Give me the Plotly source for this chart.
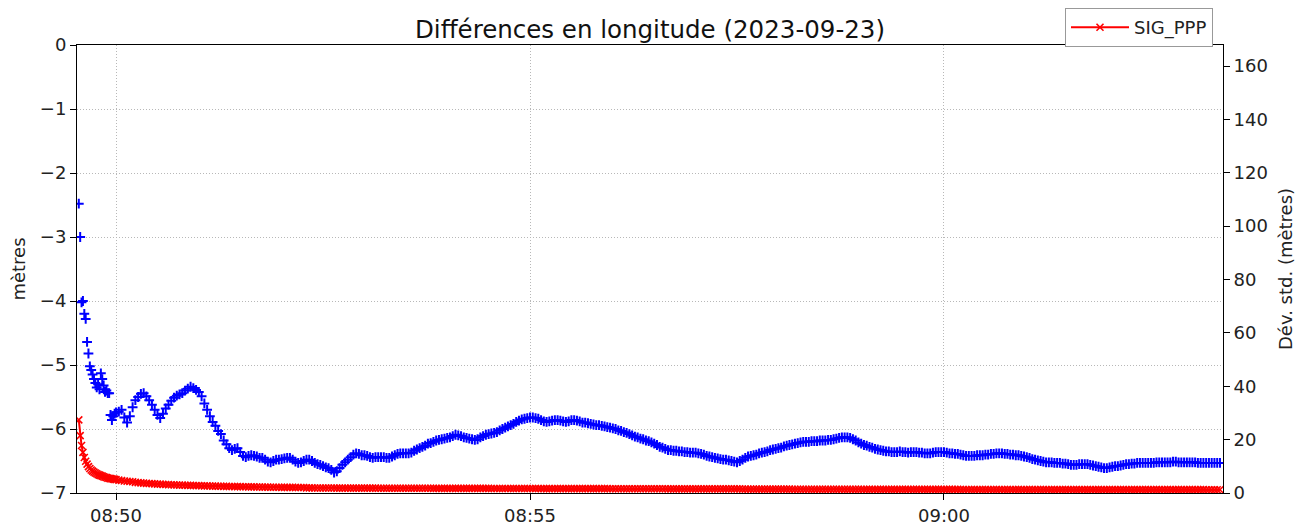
import pandas as pd
import plotly.graph_objects as go

# ---------------- data ----------------
DATE = "2023-09-23"
EARLY_START = "2023-09-23 08:49:33"   # 1 s sampling
MAIN_START = "2023-09-23 08:50:00"    # 2 s sampling

# longitude differences (m), left axis
BLUE_EARLY = [-2.48, -3.00, -4.02, -4.00, -4.20, -4.28, -4.64, -4.82, -5.02, -5.08,
              -5.15, -5.22, -5.28, -5.35, -5.30, -5.38, -5.13, -5.22, -5.32, -5.42,
              -5.40, -5.44, -5.44, -5.78, -5.86, -5.80, -5.76]
BLUE_MAIN = [
    -5.74, -5.73, -5.70, -5.82, -5.90, -5.80, -5.66, -5.55, -5.50, -5.45,
    -5.44, -5.49, -5.55, -5.62, -5.70, -5.78, -5.83, -5.76, -5.68, -5.62,
    -5.56, -5.51, -5.48, -5.46, -5.44, -5.40, -5.37, -5.34, -5.36, -5.39,
    -5.42, -5.49, -5.60, -5.70, -5.80, -5.89, -5.95, -6.03, -6.08, -6.18,
    -6.24, -6.30, -6.33, -6.31, -6.30, -6.36, -6.42, -6.44, -6.42, -6.41,
    -6.42, -6.43, -6.45, -6.45, -6.48, -6.51, -6.52, -6.50, -6.48, -6.48,
    -6.47, -6.46, -6.45, -6.45, -6.48, -6.51, -6.53, -6.52, -6.50, -6.48,
    -6.48, -6.50, -6.53, -6.55, -6.56, -6.58, -6.60, -6.61, -6.64, -6.68,
    -6.66, -6.61, -6.56, -6.52, -6.48, -6.44, -6.40, -6.38, -6.39, -6.41,
    -6.41, -6.42, -6.44, -6.45, -6.44, -6.44, -6.44, -6.44, -6.45, -6.45,
    -6.43, -6.41, -6.39, -6.38, -6.38, -6.38, -6.38, -6.37, -6.34, -6.32,
    -6.30, -6.28, -6.26, -6.23, -6.22, -6.20, -6.18, -6.17, -6.16, -6.15,
    -6.14, -6.13, -6.11, -6.09, -6.10, -6.11, -6.13, -6.14, -6.15, -6.16,
    -6.17, -6.16, -6.13, -6.11, -6.09, -6.08, -6.07, -6.06, -6.05, -6.02,
    -6.00, -5.98, -5.96, -5.94, -5.92, -5.89, -5.87, -5.85, -5.84, -5.83,
    -5.82, -5.82, -5.83, -5.84, -5.86, -5.88, -5.89, -5.88, -5.87, -5.86,
    -5.86, -5.87, -5.88, -5.89, -5.88, -5.86, -5.86, -5.87, -5.88, -5.90,
    -5.90, -5.91, -5.92, -5.93, -5.94, -5.94, -5.95, -5.96, -5.97, -5.98,
    -5.99, -6.00, -6.02, -6.03, -6.05, -6.06, -6.08, -6.10, -6.12, -6.13,
    -6.15, -6.16, -6.18, -6.19, -6.21, -6.23, -6.25, -6.28, -6.29, -6.31,
    -6.33, -6.33, -6.34, -6.34, -6.35, -6.35, -6.36, -6.36, -6.37, -6.37,
    -6.37, -6.38, -6.39, -6.40, -6.42, -6.43, -6.44, -6.45, -6.46, -6.47,
    -6.48, -6.48, -6.49, -6.50, -6.51, -6.52, -6.50, -6.48, -6.45, -6.43,
    -6.42, -6.41, -6.40, -6.38, -6.37, -6.36, -6.35, -6.33, -6.32, -6.31,
    -6.30, -6.29, -6.27, -6.26, -6.25, -6.24, -6.23, -6.22, -6.21, -6.20,
    -6.20, -6.20, -6.19, -6.19, -6.19, -6.18, -6.18, -6.18, -6.17, -6.17,
    -6.16, -6.15, -6.14, -6.13, -6.13, -6.13, -6.14, -6.16, -6.18, -6.21,
    -6.23, -6.25, -6.26, -6.28, -6.29, -6.31, -6.32, -6.33, -6.34, -6.35,
    -6.35, -6.36, -6.36, -6.36, -6.35, -6.36, -6.36, -6.37, -6.36, -6.36,
    -6.36, -6.37, -6.37, -6.38, -6.38, -6.38, -6.37, -6.36, -6.36, -6.36,
    -6.36, -6.37, -6.38, -6.38, -6.39, -6.39, -6.40, -6.41, -6.42, -6.42,
    -6.42, -6.42, -6.41, -6.41, -6.41, -6.40, -6.40, -6.39, -6.39, -6.38,
    -6.38, -6.38, -6.39, -6.39, -6.40, -6.40, -6.41, -6.41, -6.42, -6.43,
    -6.44, -6.45, -6.47, -6.48, -6.49, -6.50, -6.51, -6.52, -6.52, -6.52,
    -6.53, -6.53, -6.53, -6.54, -6.54, -6.55, -6.56, -6.56, -6.56, -6.55,
    -6.55, -6.55, -6.55, -6.56, -6.57, -6.58, -6.59, -6.60, -6.61, -6.61,
    -6.60, -6.59, -6.58, -6.58, -6.57, -6.56, -6.55, -6.55, -6.54, -6.54,
    -6.53, -6.53, -6.53, -6.53, -6.53, -6.53, -6.53, -6.52, -6.52, -6.52,
    -6.52, -6.52, -6.52, -6.51, -6.51, -6.52, -6.52, -6.52, -6.52, -6.52,
    -6.52, -6.52, -6.53, -6.53, -6.53, -6.53, -6.53, -6.53, -6.53, -6.53,
    -6.53]

# SIG_PPP standard deviation (m), right axis
RED_EARLY = [27.4, 21.5, 17.8, 15.2, 13.3, 11.9, 10.8, 9.9, 9.2, 8.6,
             8.2, 7.8, 7.5, 7.2, 6.9, 6.7, 6.5, 6.3, 6.1, 5.9,
             5.8, 5.6, 5.5, 5.4, 5.3, 5.2, 5.1]
RED_MAIN = [
    5.0, 4.8, 4.7, 4.5, 4.4, 4.3, 4.2, 4.0, 3.9, 3.8,
    3.7, 3.6, 3.55, 3.5, 3.4, 3.35, 3.3, 3.25, 3.2, 3.15,
    3.1, 3.05, 3.0, 2.97, 2.94, 2.9, 2.87, 2.84, 2.8, 2.77,
    2.74, 2.71, 2.68, 2.65, 2.62, 2.6, 2.57, 2.55, 2.52, 2.5,
    2.47, 2.45, 2.43, 2.41, 2.39, 2.37, 2.35, 2.33, 2.31, 2.29,
    2.27, 2.25, 2.23, 2.22, 2.2, 2.19, 2.17, 2.16, 2.15, 2.14,
    2.13, 2.12, 2.11, 2.1, 2.09, 2.08, 2.07, 2.06, 2.05, 1.9,
    1.9, 1.9, 1.89, 1.89, 1.88, 1.88, 1.87, 1.87, 1.86, 1.86,
    1.85, 1.85, 1.85, 1.84, 1.84, 1.84, 1.83, 1.83, 1.83, 1.82,
    1.82, 1.82, 1.81, 1.81, 1.81, 1.80, 1.80, 1.80, 1.80, 1.79,
    1.79, 1.79, 1.79, 1.78, 1.78, 1.78, 1.78, 1.77, 1.77, 1.77,
    1.77, 1.76, 1.76, 1.76, 1.76, 1.75, 1.75, 1.75, 1.75, 1.74,
    1.74, 1.74, 1.74, 1.73, 1.73, 1.73, 1.73, 1.72, 1.72, 1.72,
    1.72, 1.72, 1.71, 1.71, 1.71, 1.71, 1.70, 1.70, 1.70, 1.70,
    1.70, 1.69, 1.69, 1.69, 1.69, 1.68, 1.68, 1.68, 1.68, 1.68,
    1.67, 1.67, 1.67, 1.67, 1.66, 1.66, 1.66, 1.66, 1.66, 1.65,
    1.65, 1.65, 1.65, 1.65, 1.64, 1.64, 1.64, 1.64, 1.64, 1.63,
    1.63, 1.63, 1.63, 1.63, 1.62, 1.62, 1.62, 1.62, 1.62, 1.61,
    1.61, 1.61, 1.61, 1.61, 1.61, 1.60, 1.60, 1.60, 1.60, 1.60,
    1.59, 1.59, 1.59, 1.59, 1.59, 1.58, 1.58, 1.58, 1.58, 1.58,
    1.57, 1.57, 1.57, 1.57, 1.57, 1.57, 1.56, 1.56, 1.56, 1.56,
    1.56, 1.56, 1.55, 1.55, 1.55, 1.55, 1.55, 1.55, 1.54, 1.54,
    1.54, 1.54, 1.54, 1.54, 1.53, 1.53, 1.53, 1.45, 1.45, 1.45,
    1.45, 1.45, 1.44, 1.44, 1.44, 1.44, 1.44, 1.44, 1.43, 1.43,
    1.43, 1.43, 1.43, 1.43, 1.43, 1.42, 1.42, 1.42, 1.42, 1.42,
    1.42, 1.41, 1.41, 1.41, 1.41, 1.41, 1.41, 1.40, 1.40, 1.40,
    1.40, 1.40, 1.40, 1.40, 1.39, 1.39, 1.39, 1.39, 1.39, 1.39,
    1.39, 1.38, 1.38, 1.38, 1.38, 1.38, 1.38, 1.38, 1.37, 1.37,
    1.37, 1.37, 1.37, 1.37, 1.37, 1.36, 1.36, 1.36, 1.36, 1.36,
    1.36, 1.36, 1.35, 1.35, 1.35, 1.35, 1.35, 1.35, 1.35, 1.34,
    1.34, 1.34, 1.34, 1.34, 1.34, 1.34, 1.33, 1.33, 1.33, 1.33,
    1.33, 1.33, 1.33, 1.33, 1.32, 1.32, 1.32, 1.32, 1.32, 1.32,
    1.32, 1.32, 1.31, 1.31, 1.31, 1.31, 1.31, 1.31, 1.31, 1.31,
    1.30, 1.30, 1.30, 1.30, 1.30, 1.30, 1.30, 1.30, 1.29, 1.29,
    1.29, 1.29, 1.29, 1.29, 1.29, 1.29, 1.29, 1.28, 1.28, 1.28,
    1.28, 1.28, 1.28, 1.28, 1.28, 1.28, 1.27, 1.27, 1.27, 1.27,
    1.27, 1.27, 1.27, 1.27, 1.27, 1.26, 1.26, 1.26, 1.26, 1.26,
    1.26, 1.26, 1.26, 1.26, 1.26, 1.25, 1.25, 1.25, 1.25, 1.25,
    1.25, 1.25, 1.25, 1.25, 1.25, 1.24, 1.24, 1.24, 1.24, 1.24,
    1.24, 1.24, 1.24, 1.24, 1.24, 1.23, 1.23, 1.23, 1.23, 1.23,
    1.23]

X_RANGE = ["2023-09-23 08:49:31.7", "2023-09-23 09:03:22.2"]
Y_LEFT_RANGE = [-7, 0]
Y_RIGHT_RANGE = [0, 167.9]
TITLE = f"Différences en longitude ({DATE})"

# ---------------- time axis ----------------
t_early = pd.date_range(EARLY_START, periods=len(BLUE_EARLY), freq="1s")
t_main = pd.date_range(MAIN_START, periods=len(BLUE_MAIN), freq="2s")
times = list(t_early) + list(t_main)
blue = BLUE_EARLY + BLUE_MAIN
red = RED_EARLY + RED_MAIN

FONT = "DejaVu Sans"
GRID = dict(showgrid=True, gridcolor="#b8b8b8", griddash="1px,2px", gridwidth=1)

# the page body has an 8px margin: size the figure to the remaining space
W, H = 1302, 521

fig = go.Figure()
fig.add_trace(go.Scatter(
    x=times, y=blue, mode="markers", name="Diff", showlegend=False,
    marker=dict(symbol="cross-thin", size=7, color="#0000ff",
                line=dict(color="#0000ff", width=2)),
    yaxis="y"))
fig.add_trace(go.Scatter(
    x=times, y=red, mode="lines+markers", name="SIG_PPP",
    line=dict(color="#ff0000", width=2),
    marker=dict(symbol="x-thin", size=7, color="#ff0000",
                line=dict(color="#ff0000", width=1.6)),
    yaxis="y2"))

axis_common = dict(showline=True, linecolor="black", linewidth=1,
                   ticks="outside", ticklen=6, tickwidth=1, tickcolor="black",
                   zeroline=False, automargin=False,
                   tickfont=dict(family=FONT, size=18, color="#222"))

fig.update_layout(
    width=W, height=H,
    margin=dict(l=69, r=87, t=37, b=36, autoexpand=False),
    paper_bgcolor="white", plot_bgcolor="white",
    font=dict(family=FONT, size=18, color="#222"),
    title=dict(text=TITLE, x=(650 - 8) / W, xanchor="center", y=1 - 21 / H,
               yanchor="middle", yref="container",
               font=dict(family=FONT, size=24.5, color="#111")),
    xaxis=dict(type="date", range=X_RANGE, tickformat="%H:%M",
               tick0="2023-09-23 08:50:00", dtick=300000, mirror=True,
               **GRID, **axis_common),
    yaxis=dict(range=Y_LEFT_RANGE, dtick=1, mirror=True, **GRID,
               title=dict(text="mètres", standoff=10,
                          font=dict(family=FONT, size=18, color="#222")),
               **axis_common),
    yaxis2=dict(range=Y_RIGHT_RANGE, dtick=20, overlaying="y", side="right",
                showgrid=False,
                title=dict(text="Dév. std. (mètres)", standoff=12,
                           font=dict(family=FONT, size=18, color="#222")),
                **axis_common),
    legend=dict(x=(1213 - 8 - 69) / (W - 69 - 87), y=1.0 + 37 / 448,
                xanchor="right", yanchor="top",
                bgcolor="white", bordercolor="#999999", borderwidth=1,
                itemwidth=58, tracegroupgap=0,
                font=dict(family=FONT, size=18, color="#222")),
    showlegend=True,
)

fig.write_html("out.html")
